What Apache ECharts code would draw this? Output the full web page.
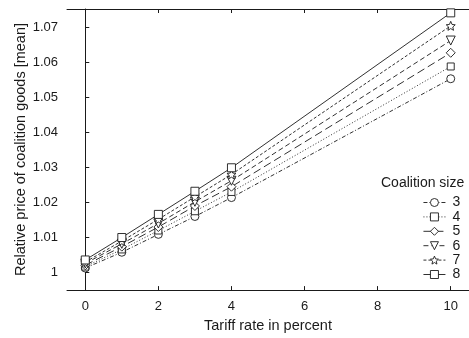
<!DOCTYPE html>
<html>
<head>
<meta charset="utf-8">
<script src="https://cdn.jsdelivr.net/npm/echarts@6/dist/echarts.min.js"></script>
<style>
  html, body { margin: 0; padding: 0; background: #fff; }
  #chart { width: 469px; height: 338px; }
</style>
</head>
<body>
<div id="chart"></div>
<script>
// Tariff rates (percent) at which the mean relative price was computed
const tariffRates = [0, 1, 2, 3, 4, 10];

// Mean relative price of coalition goods, by coalition size
const size3 = [1.0013, 1.0058, 1.0109, 1.0160, 1.0214, 1.0553];
const size4 = [1.0017, 1.0066, 1.0120, 1.0175, 1.0230, 1.0588];
const size5 = [1.0021, 1.0074, 1.0130, 1.0190, 1.0245, 1.0627];
const size6 = [1.0026, 1.0082, 1.0140, 1.0202, 1.0262, 1.0662];
const size7 = [1.0030, 1.0090, 1.0152, 1.0216, 1.0280, 1.0704];
const size8 = [1.0036, 1.0100, 1.0166, 1.0232, 1.0299, 1.0741];

const seriesNames = ['3', '4', '5', '6', '7', '8'];
const xTicks = [0, 2, 4, 6, 8, 10];
const yTicks = [1, 1.01, 1.02, 1.03, 1.04, 1.05, 1.06, 1.07];

const FONT = 'Liberation Sans, Arial, Helvetica, sans-serif';
const INK = '#1a1a1a';
const STAR = 'path://M12,2 L14.9,8.6 L22,9.3 L16.6,14 L18.2,21 L12,17.3 L5.8,21 L7.4,14 L2,9.3 L9.1,8.6 Z';

const styles = [
  { data: size3, symbol: 'circle',   size: 8, rotate: 0,   dash: [4, 2, 1, 2] },
  { data: size4, symbol: 'rect',     size: 7, rotate: 0,   dash: [1, 2] },
  { data: size5, symbol: 'diamond',  size: 9, rotate: 0,   dash: [8, 4] },
  { data: size6, symbol: 'triangle', size: 9, rotate: 180, dash: [5, 3] },
  { data: size7, symbol: STAR,       size: 9, rotate: 0,   dash: [3, 2] },
  { data: size8, symbol: 'rect',     size: 8, rotate: 0,   dash: 'solid' }
];

const series = styles.map((s, i) => ({
  name: seriesNames[i],
  type: 'line',
  data: tariffRates.map((x, j) => [x, s.data[j]]),
  symbol: s.symbol,
  symbolSize: s.size,
  symbolRotate: s.rotate,
  showAllSymbol: true,
  animation: false,
  lineStyle: { color: INK, width: 0.9, type: s.dash },
  itemStyle: { color: '#fff', borderColor: INK, borderWidth: 0.9 },
  z: 2 + i
}));

const chart = echarts.init(document.getElementById('chart'), null, { renderer: 'canvas' });
chart.setOption({
  animation: false,
  backgroundColor: '#fff',
  textStyle: { fontFamily: FONT },
  grid: { left: 67, top: 9, width: 408, height: 289, containLabel: false },
  xAxis: [{
    type: 'value',
    min: -0.5, max: 10.5,
    name: 'Tariff rate in percent',
    nameLocation: 'middle',
    nameGap: 21,
    nameTextStyle: { fontSize: 14.5, color: INK, fontFamily: FONT },
    axisLine: { show: true, lineStyle: { color: INK, width: 1 } },
    axisTick: { show: true, inside: true, length: 4, customValues: xTicks, lineStyle: { color: INK } },
    axisLabel: { show: true, customValues: xTicks, fontSize: 13, color: INK, margin: 10, fontFamily: FONT },
    splitLine: { show: false }
  }, {
    type: 'value',
    position: 'top',
    min: -0.5, max: 10.5,
    axisLine: { show: true, lineStyle: { color: INK, width: 1 } },
    axisTick: { show: true, inside: true, length: 4, customValues: xTicks, lineStyle: { color: INK } },
    axisLabel: { show: false },
    splitLine: { show: false }
  }],
  yAxis: {
    type: 'value',
    min: 0.995, max: 1.0752,
    name: 'Relative price of coalition goods [mean]',
    nameLocation: 'middle',
    nameGap: 39,
    nameMoveOverlap: false,
    nameTextStyle: { fontSize: 14.5, color: INK, fontFamily: FONT },
    axisLine: { show: true, lineStyle: { color: INK, width: 1 } },
    axisTick: { show: true, inside: true, length: 4, customValues: yTicks, lineStyle: { color: INK } },
    axisLabel: {
      show: true, customValues: yTicks, fontSize: 13, color: INK, margin: 9, fontFamily: FONT,
      formatter: v => String(+v.toFixed(2))
    },
    splitLine: { show: false }
  },
  legend: {
    data: seriesNames,
    orient: 'vertical',
    left: 418,
    top: 190.5,
    itemWidth: 22,
    itemHeight: 10,
    itemGap: 0.4,
    align: 'left',
    lineStyle: { width: 0.9 },
    itemStyle: { borderWidth: 0.9 },
    textStyle: { fontSize: 14, color: INK, fontFamily: FONT, padding: [0, 0, 0, 2] },
    backgroundColor: 'transparent'
  },
  graphic: [{
    type: 'text',
    left: 381,
    top: 176,
    style: { text: 'Coalition size', fontSize: 14, fill: INK, fontFamily: FONT }
  }],
  series: series
});
</script>
</body>
</html>
